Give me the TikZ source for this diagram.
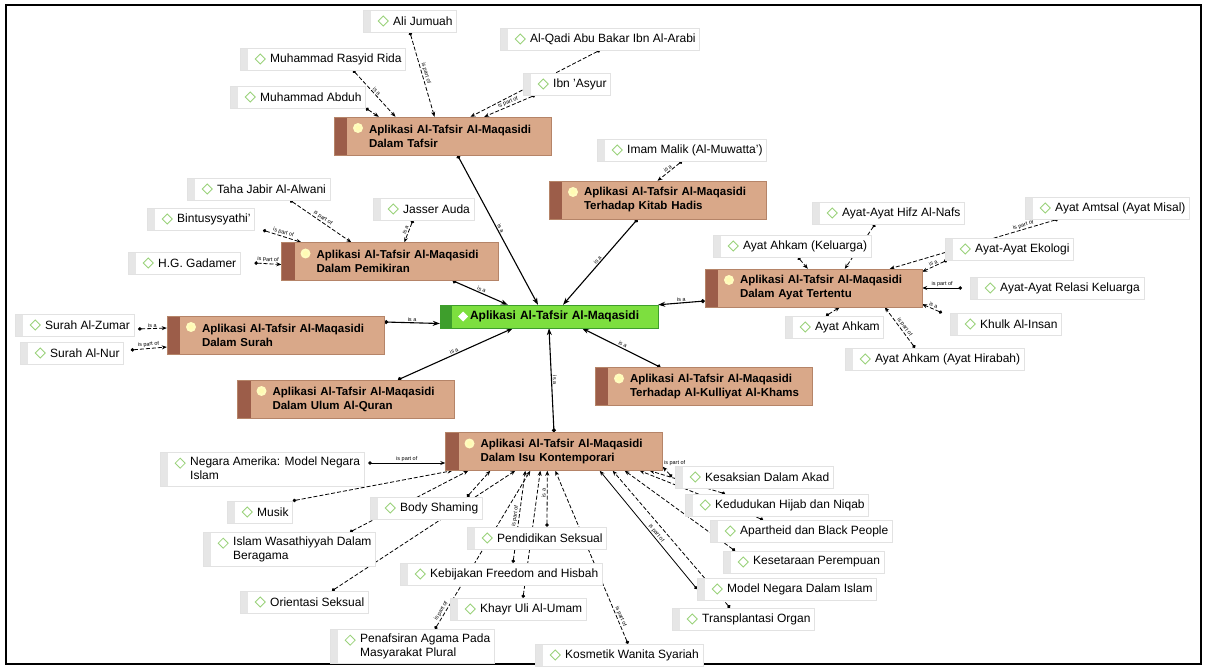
\documentclass[tikz,border=0pt]{standalone}
\usepackage{fontspec}
\setmainfont{Liberation Sans}
\usetikzlibrary{arrows.meta,backgrounds}
\definecolor{topicfill}{HTML}{D9A889}
\definecolor{topicstrip}{HTML}{9C5D49}
\definecolor{topicdraw}{HTML}{B58468}
\definecolor{mainfill}{HTML}{7DDF3F}
\definecolor{mainstrip}{HTML}{3E9E2C}
\definecolor{leafstrip}{HTML}{E6E6E6}
\definecolor{leafdraw}{HTML}{E2E2E2}
\definecolor{leafmark}{HTML}{9AD27A}
\begin{document}
\begin{tikzpicture}[x=1pt,y=-1pt,
  topic/.style={rectangle,draw=topicdraw,fill=topicfill,minimum width=217pt,minimum height=38pt,
    text width=211pt,inner xsep=3pt,inner ysep=2pt,font=\fontsize{11.5}{14}\selectfont\bfseries,
    execute at begin node={\parindent=0pt\leftskip=32pt\rightskip=0pt plus 1fil\relax},
    path picture={\fill[topicstrip] (path picture bounding box.north west) rectangle ([xshift=13pt]path picture bounding box.south west);
      \fill[yellow!25] ([xshift=24pt,yshift=-11pt]path picture bounding box.north west) circle (5pt);
      \fill[white!70!yellow] ([xshift=24pt,yshift=-11pt]path picture bounding box.north west) circle (2.5pt);}},
  leaf/.style={rectangle,draw=leafdraw,fill=white,minimum height=22pt,inner xsep=4pt,inner ysep=3pt,
    font=\fontsize{12}{14}\selectfont,execute at begin node={\hspace*{26pt}},
    path picture={\fill[leafstrip] (path picture bounding box.north west) rectangle ([xshift=8pt]path picture bounding box.south west);
      \draw[leafmark,line width=0.8pt] ([xshift=15pt,yshift=-11pt]path picture bounding box.north west)
        -- ++(5pt,5pt) -- ++(5pt,-5pt) -- ++(-5pt,-5pt) -- cycle;}},
  mainnode/.style={rectangle,draw=mainstrip,fill=mainfill,minimum width=218pt,minimum height=23pt,
    text width=212pt,inner xsep=3pt,font=\fontsize{12}{14}\selectfont\bfseries,
    execute at begin node={\parindent=0pt\leftskip=27pt\relax},
    path picture={\fill[mainstrip] (path picture bounding box.north west) rectangle ([xshift=12pt]path picture bounding box.south west);
      \fill[white] ([xshift=18pt]path picture bounding box.west) -- ++(5pt,5pt) -- ++(5pt,-5pt) -- ++(-5pt,-5pt) -- cycle;}},
  isa/.style={line width=1.1pt,{Circle[length=4pt]}-{Stealth[length=7pt,width=5pt]}},
  part/.style={line width=0.8pt,dash pattern=on 4pt off 2pt,{Circle[length=3.5pt]}-{Stealth[length=5pt,width=4pt]}},
  flatlbl/.style={font=\fontsize{5.5}{6}\selectfont,inner sep=1pt},
  lbl/.style={flatlbl,sloped,above,midway}]
  \useasboundingbox (0,0) rectangle (1207,668);
  \draw[line width=1.5pt] (6,5) rectangle (1201,664);

  % main and topics
  \node[mainnode] (main) at (549,316.5) {Aplikasi Al-Tafsir Al-Maqasidi};
  \node[topic] (taf) at (442.5,136) {Aplikasi Al-Tafsir Al-Maqasidi\\Dalam Tafsir};
  \node[topic] (hadis) at (657.5,200) {Aplikasi Al-Tafsir Al-Maqasidi\\Terhadap Kitab Hadis};
  \node[topic] (pemik) at (390,261.5) {Aplikasi Al-Tafsir Al-Maqasidi\\Dalam Pemikiran};
  \node[topic] (ayat) at (813.5,288) {Aplikasi Al-Tafsir Al-Maqasidi\\Dalam Ayat Tertentu};
  \node[topic] (surah) at (275.5,335) {Aplikasi Al-Tafsir Al-Maqasidi\\Dalam Surah};
  \node[topic] (ulum) at (346,399) {Aplikasi Al-Tafsir Al-Maqasidi\\Dalam Ulum Al-Quran};
  \node[topic] (kull) at (703.5,386.5) {Aplikasi Al-Tafsir Al-Maqasidi\\Terhadap Al-Kulliyat Al-Khams};
  \node[topic] (isu) at (554,451.5) {Aplikasi Al-Tafsir Al-Maqasidi\\Dalam Isu Kontemporari};

  % tafsir
  \node[leaf,anchor=west] (ali) at (363,21) {Ali Jumuah};
  \node[leaf,anchor=west] (qadi) at (500,39) {Al-Qadi Abu Bakar Ibn Al-Arabi};
  \node[leaf,anchor=west] (rida) at (240,59) {Muhammad Rasyid Rida};
  \node[leaf,anchor=west] (asyur) at (523,84) {Ibn 'Asyur};
  \node[leaf,anchor=west] (abduh) at (230,97) {Muhammad Abduh};
  \node[leaf,anchor=west] (malik) at (597,150) {Imam Malik (Al-Muwatta')};
  % pemikiran
  \node[leaf,anchor=west] (taha) at (187,189) {Taha Jabir Al-Alwani};
  \node[leaf,anchor=west] (bint) at (147,219) {Bintusysyathi'};
  \node[leaf,anchor=west] (jasser) at (373,209) {Jasser Auda};
  \node[leaf,anchor=west] (gadamer) at (128,263) {H.G. Gadamer};
  % surah
  \node[leaf,anchor=west] (zumar) at (15,325) {Surah Al-Zumar};
  \node[leaf,anchor=west] (nur) at (20,353) {Surah Al-Nur};
  % ayat tertentu
  \node[leaf,anchor=west] (hifz) at (812,213) {Ayat-Ayat Hifz Al-Nafs};
  \node[leaf,anchor=west] (amtsal) at (1025,208) {Ayat Amtsal (Ayat Misal)};
  \node[leaf,anchor=west] (keluarga) at (713,246) {Ayat Ahkam (Keluarga)};
  \node[leaf,anchor=west] (ekologi) at (945,249) {Ayat-Ayat Ekologi};
  \node[leaf,anchor=west] (relasi) at (970,288) {Ayat-Ayat Relasi Keluarga};
  \node[leaf,anchor=west] (ahkam) at (785,327) {Ayat Ahkam};
  \node[leaf,anchor=west] (khulk) at (950,324) {Khulk Al-Insan};
  \node[leaf,anchor=west] (hirabah) at (845,359) {Ayat Ahkam (Ayat Hirabah)};
  % isu kontemporari
  \node[leaf,anchor=north west] (negara) at (160,452) {\begin{tabular}{@{}l@{}}Negara Amerika: Model Negara\\Islam\end{tabular}};
  \node[leaf,anchor=west] (musik) at (227,512) {Musik};
  \node[leaf,anchor=west] (body) at (370,508) {Body Shaming};
  \node[leaf,anchor=north west] (islam) at (203,532) {\begin{tabular}{@{}l@{}}Islam Wasathiyyah Dalam\\Beragama\end{tabular}};
  \node[leaf,anchor=west] (pendidikan) at (467,538) {Pendidikan Seksual};
  \node[leaf,anchor=west] (kebijakan) at (400,574) {Kebijakan Freedom and Hisbah};
  \node[leaf,anchor=west] (orientasi) at (240,602) {Orientasi Seksual};
  \node[leaf,anchor=west] (khayr) at (450,609) {Khayr Uli Al-Umam};
  \node[leaf,anchor=north west] (penafsiran) at (330,629) {\begin{tabular}{@{}l@{}}Penafsiran Agama Pada\\Masyarakat Plural\end{tabular}};
  \node[leaf,anchor=west] (kesaksian) at (675,477) {Kesaksian Dalam Akad};
  \node[leaf,anchor=west] (hijab) at (685,505) {Kedudukan Hijab dan Niqab};
  \node[leaf,anchor=west] (apartheid) at (710,531) {Apartheid dan Black People};
  \node[leaf,anchor=west] (kesetaraan) at (723,562) {Kesetaraan Perempuan};
  \node[leaf,anchor=west] (modelneg) at (697,589) {Model Negara Dalam Islam};
  \node[leaf,anchor=west] (transplan) at (672,619) {Transplantasi Organ};
  \node[leaf,anchor=west] (kosmetik) at (535,655) {Kosmetik Wanita Syariah};

  \begin{scope}[on background layer]
    % topics to main
    \draw[isa] ([xshift=15pt]taf.south) -- node[lbl]{is a} ([xshift=-11pt]main.north);
    \draw[isa] ([xshift=-20pt]hadis.south) -- node[lbl]{is a} ([xshift=14pt]main.north);
    \draw[isa] ([xshift=-46pt]pemik.south east) -- node[lbl]{is a} ([xshift=68pt]main.north west);
    \draw[isa] ([yshift=-13pt]ayat.west) -- node[lbl]{is a} (main.north east);
    \draw[isa] ([yshift=13pt]surah.east) -- node[lbl]{is a} ([yshift=-7pt]main.west);
    \draw[isa] ([xshift=52pt]ulum.north) -- node[lbl]{is a} ([xshift=-36pt]main.south);
    \draw[isa] ([xshift=-43pt]kull.north) -- node[lbl]{is a} ([xshift=33pt]main.south);
    \draw[isa] (isu.north) -- node[lbl]{is a} (main.south);
    % tafsir
    \draw[part] (ali.south) -- node[lbl]{is part of} ([xshift=-8pt]taf.north);
    \draw[part] (qadi.south) -- node[lbl]{is a} ([xshift=28pt]taf.north);
    \draw[part] ([xshift=12pt]asyur.south west) -- node[lbl]{is part of} ([xshift=-67pt]taf.north east);
    \draw[part] ([xshift=113pt]rida.south west) -- node[lbl]{is a} ([xshift=-47pt]taf.north);
    \draw[part] (abduh.south east) -- ([xshift=45pt]taf.north west);
    \draw[part] ([xshift=85pt]malik.south west) -- node[lbl]{is a} (hadis.north);
    % pemikiran
    \draw[part] ([xshift=103pt]taha.south west) -- node[lbl]{is part of} ([xshift=70pt]pemik.north west);
    \draw[part] ([xshift=116pt]bint.south west) -- node[lbl]{is part of} ([xshift=20pt]pemik.north west);
    \draw[part] ([xshift=40pt]jasser.south west) -- node[lbl]{is a} ([xshift=123pt]pemik.north west);
    \draw[part] ([xshift=14pt]gadamer.east) -- node[lbl]{is part of} ([yshift=-3pt]pemik.west);
    % surah
    \draw[part] ([xshift=4pt,yshift=-4pt]zumar.east) -- node[lbl]{is a} ([yshift=7pt]surah.west);
    \draw[part] ([xshift=7pt,yshift=3pt]nur.east) -- node[lbl]{is part of} ([yshift=-12pt]surah.west);
    % ayat tertentu
    \draw[part] ([xshift=63pt]hifz.south west) -- ([xshift=140pt]ayat.north west);
    \draw[part] ([xshift=33pt]amtsal.south west) -- node[lbl,pos=0.2]{is part of} ([xshift=185pt]ayat.north west);
    \draw[part] ([xshift=85pt]keluarga.south west) -- ([xshift=103pt]ayat.north west);
    \draw[part] ([xshift=2pt]ekologi.south west) -- node[lbl]{is a} ([yshift=-3pt]ayat.north east);
    \draw[part,solid] ([xshift=-8pt]relasi.west) -- node[lbl]{is part of} (ayat.east);
    \draw[part] ([xshift=-8pt]khulk.north west) -- node[lbl]{is a} ([yshift=3pt]ayat.south east);
    \draw[part] ([xshift=41pt]ahkam.north west) -- ([xshift=135pt]ayat.south west);
    \draw[part] ([xshift=70pt]hirabah.north west) -- node[lbl,pos=0.45]{is part of} ([xshift=180pt]ayat.south west);
    % isu kontemporari
    \draw[part,solid] ([xshift=4pt,yshift=-11pt]negara.north east) -- node[lbl]{is part of} ([yshift=-11.5pt]isu.west);
    \draw[part] (musik.north east) -- ([xshift=7pt]isu.south west);
    \draw[part] ([xshift=147pt]islam.north west) -- node[lbl,pos=0.3]{is a} ([xshift=23pt]isu.south west);
    \draw[part] ([xshift=92pt]orientasi.north west) -- node[lbl,pos=0.2]{is a} ([xshift=70pt]isu.south west);
    \draw[part] ([xshift=97pt]body.north west) -- ([xshift=45pt]isu.south west);
    \draw[part] ([xshift=80pt]pendidikan.north west) -- node[lbl,pos=0.6]{is a} ([xshift=102pt]isu.south west);
    \draw[part] ([xshift=113pt]kebijakan.north west) -- node[lbl,pos=0.5]{is part of} ([xshift=80pt]isu.south west);
    \draw[part] ([xshift=73pt]khayr.north west) -- ([xshift=95pt]isu.south west);
    \draw[part] ([xshift=105pt]penafsiran.north west) -- node[lbl,pos=0.1]{is part of} ([xshift=85pt]isu.south west);
    \draw[part] ([xshift=93pt]kosmetik.north west) -- node[lbl,pos=0.15]{is part of} ([xshift=110pt]isu.south west);
    \draw[part] ([xshift=-3pt]kesaksian.west) -- node[flatlbl,pos=1,above right]{is part of} ([yshift=4pt]isu.south east);
    \draw[part] ([xshift=40pt]hijab.north west) -- ([xshift=-13pt]isu.south east);
    \draw[part] ([xshift=53pt]apartheid.north west) -- ([xshift=-23pt]isu.south east);
    \draw[part] ([xshift=12pt]kesetaraan.north west) -- ([xshift=-38pt]isu.south east);
    \draw[part,solid] (modelneg.west) -- node[lbl,pos=0.45]{is part of} ([xshift=-63pt]isu.south east);
    \draw[part] ([xshift=58pt]transplan.north west) -- ([xshift=-50pt]isu.south east);
  \end{scope}
\end{tikzpicture}
\end{document}
